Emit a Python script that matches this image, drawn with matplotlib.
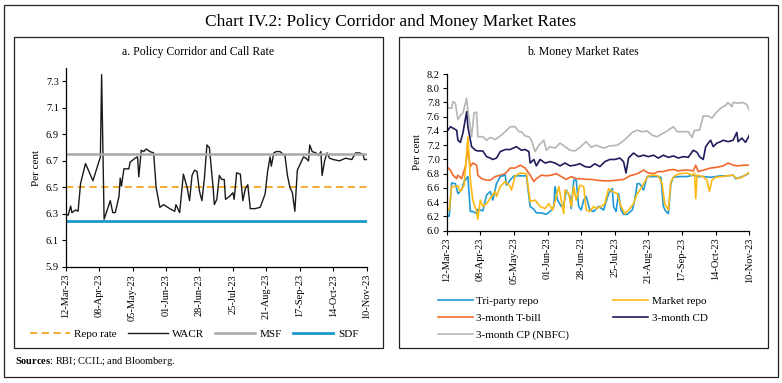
import matplotlib
matplotlib.use("Agg")
import matplotlib.pyplot as plt
import matplotlib.dates as mdates
from matplotlib.patches import Rectangle
from matplotlib.ticker import FormatStrFormatter
import pandas as pd

plt.rcParams['font.family'] = ['Liberation Serif', 'DejaVu Serif']
plt.rcParams['mathtext.fontset'] = 'custom'
plt.rcParams['mathtext.rm'] = 'Liberation Serif'
plt.rcParams['mathtext.bf'] = 'Liberation Serif:bold'

# ---- data (days counted from 12-Mar-2023) ----
start = pd.Timestamp("2023-03-12")
end = pd.Timestamp("2023-11-10")

repo_rate = 6.50
msf_rate = 6.75
sdf_rate = 6.25

wacr_days = [0, 2, 4, 5, 8, 10, 12, 16, 22, 26,
             28, 29, 31, 36, 38, 40, 43, 44, 45, 47,
             51, 52, 56, 58, 59, 61, 63, 65, 68, 71,
             73, 76, 79, 84, 88, 89, 92, 95, 98, 100,
             102, 104, 106, 108, 110, 112, 114, 116, 119, 120,
             122, 124, 126, 128, 129, 132, 135, 136, 138, 141,
             143, 145, 147, 149, 153, 157, 161, 163, 165, 166,
             168, 170, 173, 177, 179, 181, 183, 185, 187, 189,
             192, 194, 196, 197, 199, 202, 204, 206, 207, 209,
             211, 213, 216, 221, 226, 231, 234, 237, 240, 241,
             243]
wacr = [6.30, 6.29, 6.36, 6.31, 6.33, 6.32, 6.53, 6.68, 6.55, 6.67,
        6.73, 7.35, 6.26, 6.40, 6.31, 6.31, 6.43, 6.57, 6.51, 6.64,
        6.64, 6.69, 6.72, 6.73, 6.58, 6.78, 6.77, 6.79, 6.77, 6.76,
        6.50, 6.35, 6.37, 6.34, 6.32, 6.37, 6.31, 6.60, 6.50, 6.40,
        6.59, 6.63, 6.62, 6.47, 6.40, 6.57, 6.82, 6.80, 6.50, 6.37,
        6.41, 6.59, 6.56, 6.56, 6.41, 6.43, 6.46, 6.41, 6.61, 6.60,
        6.40, 6.49, 6.52, 6.34, 6.34, 6.35, 6.45, 6.62, 6.73, 6.66,
        6.76, 6.77, 6.77, 6.74, 6.59, 6.50, 6.46, 6.32, 6.63, 6.67,
        6.73, 6.72, 6.70, 6.82, 6.77, 6.76, 6.74, 6.77, 6.59, 6.70,
        6.76, 6.72, 6.71, 6.70, 6.72, 6.71, 6.76, 6.76, 6.75, 6.71,
        6.71]

cp_days = [0, 1, 4, 5, 7, 9, 11, 13, 16, 17, 20, 22, 24, 25, 29, 32, 35, 39,
           43, 47, 51, 55, 58, 60, 63, 66, 68, 71, 74, 78, 80, 83, 87, 91,
           95, 99, 103, 107, 112, 116, 120, 126, 131, 137, 141, 145, 149,
           153, 157, 161, 165, 169, 173, 177, 182, 185, 190, 194, 197, 199,
           203, 206, 210, 213, 216, 220, 224, 226, 229, 230, 234, 238, 241, 243]
cp = [7.83, 7.72, 7.72, 7.81, 7.79, 7.56, 7.62, 7.65, 7.86, 7.69, 7.32, 7.66,
      7.66, 7.32, 7.32, 7.27, 7.31, 7.28, 7.33, 7.39, 7.46, 7.46, 7.39, 7.39,
      7.33, 7.32, 7.27, 7.11, 7.20, 7.27, 7.13, 7.18, 7.16, 7.23, 7.18, 7.13,
      7.12, 7.17, 7.25, 7.17, 7.20, 7.16, 7.19, 7.20, 7.25, 7.31, 7.38, 7.41,
      7.39, 7.40, 7.34, 7.32, 7.36, 7.40, 7.46, 7.39, 7.39, 7.39, 7.31, 7.41,
      7.41, 7.61, 7.61, 7.58, 7.65, 7.72, 7.76, 7.80, 7.74, 7.80, 7.79, 7.80,
      7.77, 7.69]

cd_days = [0, 1, 3, 5, 8, 9, 11, 13, 16, 17, 20, 23, 25, 29, 32, 35, 37, 40,
           43, 47, 51, 56, 60, 63, 66, 67, 70, 72, 75, 79, 83, 87, 91, 95, 99,
           103, 107, 111, 115, 119, 123, 127, 131, 135, 139, 142, 144, 146,
           150, 154, 158, 162, 166, 170, 174, 178, 182, 186, 190, 194, 198,
           201, 203, 206, 208, 210, 212, 214, 217, 220, 222, 226, 230, 233,
           234, 237, 240, 243]
cd = [7.46, 7.41, 7.46, 7.44, 7.41, 7.27, 7.24, 7.37, 7.67, 7.46, 7.18, 7.13,
      7.12, 7.12, 7.04, 7.02, 7.00, 7.02, 7.11, 7.14, 7.14, 7.18, 7.13, 7.14,
      7.11, 6.95, 7.00, 6.91, 7.00, 6.95, 6.97, 6.95, 6.91, 6.95, 6.91, 6.92,
      6.94, 6.90, 6.89, 6.94, 6.90, 6.97, 7.00, 7.00, 7.02, 6.97, 6.81, 7.02,
      7.09, 7.04, 7.06, 7.04, 7.06, 7.02, 7.06, 7.03, 7.05, 7.02, 7.04, 7.03,
      7.13, 7.10, 7.04, 7.00, 7.18, 7.23, 7.27, 7.18, 7.23, 7.25, 7.27, 7.25,
      7.27, 7.38, 7.25, 7.30, 7.24, 7.34]

tbill_days = [0, 3, 5, 8, 9, 12, 15, 17, 19, 21, 24, 25, 28, 32, 35, 39, 43,
              47, 51, 55, 59, 63, 67, 70, 72, 76, 80, 84, 88, 92, 96, 100, 104,
              108, 112, 116, 120, 126, 131, 137, 142, 147, 153, 158, 162, 166,
              170, 174, 178, 182, 186, 190, 194, 198, 200, 202, 206, 212, 217,
              222, 226, 230, 234, 238, 243]
tbill = [6.90, 6.85, 6.78, 6.73, 6.78, 6.73, 6.90, 7.13, 6.90, 6.95, 6.92,
         6.78, 6.73, 6.71, 6.71, 6.76, 6.78, 6.80, 6.88, 6.88, 6.92, 6.88,
         6.78, 6.69, 6.73, 6.78, 6.77, 6.78, 6.80, 6.76, 6.72, 6.76, 6.73,
         6.73, 6.72, 6.72, 6.71, 6.70, 6.70, 6.71, 6.72, 6.77, 6.80, 6.85,
         6.81, 6.80, 6.83, 6.83, 6.85, 6.86, 6.84, 6.85, 6.85, 6.84, 6.92,
         6.83, 6.85, 6.88, 6.89, 6.91, 6.95, 6.92, 6.91, 6.92, 6.92]

triparty_days = [0, 2, 4, 7, 9, 12, 14, 17, 19, 21, 24, 25, 29, 32, 35, 37, 40,
                 43, 47, 48, 51, 54, 59, 64, 67, 70, 72, 76, 80, 83, 86, 87, 89,
                 92, 94, 96, 99, 100, 102, 104, 106, 108, 110, 112, 115, 118,
                 122, 126, 130, 133, 134, 136, 138, 140, 142, 145, 149, 151,
                 153, 155, 158, 161, 165, 169, 172, 174, 176, 178, 180, 182,
                 187, 193, 198, 202, 206, 212, 216, 220, 225, 230, 232, 236,
                 240, 243]
triparty = [6.22, 6.20, 6.67, 6.66, 6.52, 6.57, 6.69, 6.76, 6.27, 6.27, 6.24,
            6.30, 6.28, 6.50, 6.55, 6.43, 6.66, 6.76, 6.78, 6.64, 6.71, 6.77,
            6.77, 6.77, 6.34, 6.30, 6.25, 6.25, 6.23, 6.27, 6.34, 6.62, 6.43,
            6.34, 6.36, 6.57, 6.48, 6.31, 6.71, 6.71, 6.34, 6.29, 6.43, 6.48,
            6.29, 6.27, 6.34, 6.29, 6.52, 6.59, 6.34, 6.27, 6.52, 6.29, 6.23,
            6.23, 6.29, 6.43, 6.66, 6.66, 6.57, 6.76, 6.76, 6.76, 6.75, 6.34,
            6.27, 6.24, 6.66, 6.75, 6.76, 6.76, 6.78, 6.76, 6.76, 6.75, 6.76,
            6.77, 6.77, 6.78, 6.73, 6.75, 6.78, 6.81]

mrepo_days = [0, 2, 4, 7, 9, 11, 14, 16, 17, 19, 21, 24, 25, 27, 29, 32, 36,
              39, 40, 43, 47, 51, 52, 55, 59, 64, 67, 71, 75, 79, 82, 85, 87,
              90, 92, 94, 95, 98, 100, 102, 104, 107, 110, 112, 115, 118, 120,
              124, 127, 130, 133, 137, 140, 143, 146, 150, 153, 157, 159, 162,
              166, 170, 173, 175, 178, 180, 183, 187, 193, 197, 199, 200, 201,
              206, 209, 211, 213, 216, 221, 225, 230, 233, 237, 243]
mrepo = [6.31, 6.29, 6.62, 6.62, 6.63, 6.55, 6.64, 7.09, 7.32, 6.71, 6.43,
         6.27, 6.16, 6.43, 6.34, 6.38, 6.48, 6.55, 6.48, 6.62, 6.69, 6.62,
         6.57, 6.77, 6.81, 6.80, 6.41, 6.43, 6.34, 6.31, 6.38, 6.29, 6.41,
         6.62, 6.43, 6.24, 6.57, 6.52, 6.34, 6.62, 6.43, 6.64, 6.62, 6.29,
         6.27, 6.34, 6.31, 6.34, 6.38, 6.59, 6.55, 6.52, 6.34, 6.24, 6.29,
         6.38, 6.52, 6.62, 6.69, 6.77, 6.78, 6.77, 6.66, 6.38, 6.29, 6.69,
         6.77, 6.80, 6.81, 6.78, 6.81, 6.45, 6.78, 6.76, 6.71, 6.55, 6.71,
         6.75, 6.76, 6.77, 6.78, 6.73, 6.75, 6.82]

tick_dates = pd.date_range(start, end, freq="27D")


def to_dates(days):
    return start + pd.to_timedelta(days, unit="D")


W, H = 782, 383
fig = plt.figure(figsize=(W / 100, H / 100), dpi=100)


def box(x0, y0, x1, y1, lw=0.9):
    fig.patches.append(Rectangle((x0 / W, 1 - y1 / H), (x1 - x0) / W,
                                 (y1 - y0) / H, transform=fig.transFigure,
                                 fill=False, lw=lw, edgecolor="#222222"))


box(4, 5, 778, 377)
box(14, 37, 383, 348)
box(399, 37, 768, 348)

fig.text(391 / W, 1 - 22 / H, "Chart IV.2: Policy Corridor and Money Market Rates",
         ha="center", va="center", fontsize=12.5)
fig.text(198 / W, 1 - 52 / H, "a. Policy Corridor and Call Rate",
         ha="center", va="center", fontsize=8.5)
fig.text(583 / W, 1 - 52 / H, "b. Money Market Rates",
         ha="center", va="center", fontsize=8.5)
fig.text(15 / W, 1 - 362 / H, r"$\mathbf{Sources}$: RBI; CCIL; and Bloomberg.",
         ha="left", va="center", fontsize=7.5)


def style_axis(ax):
    for s in ("top", "right"):
        ax.spines[s].set_visible(False)
    ax.spines["left"].set_linewidth(0.9)
    ax.spines["bottom"].set_linewidth(0.9)
    ax.tick_params(direction="out", length=3, width=0.8, labelsize=7.5,
                   pad=2)
    ax.set_xlim(start, end)
    ax.set_xticks(tick_dates)
    ax.xaxis.set_major_formatter(mdates.DateFormatter("%d-%b-%y"))
    for lab in ax.get_xticklabels():
        lab.set_rotation(90)
    ax.set_ylabel("Per cent", fontsize=8, labelpad=3)


# ---- panel a ----
ax1 = fig.add_axes([65.7 / W, 1 - 267 / H, 301 / W, 199 / H])
ax1.plot([start, end], [repo_rate, repo_rate], color="#f6a623", lw=1.3,
         dashes=(4, 2.5), label="Repo rate")
ax1.plot(to_dates(wacr_days), wacr, color="#1a1a1a", lw=1.0, label="WACR")
ax1.plot([start, end], [msf_rate, msf_rate], color="#a8a8a8", lw=1.8,
         label="MSF")
ax1.plot([start, end], [sdf_rate, sdf_rate], color="#1a98cf", lw=2.0,
         label="SDF")
style_axis(ax1)
ax1.set_ylim(5.9, 7.4)
ax1.set_yticks([5.9, 6.1, 6.3, 6.5, 6.7, 6.9, 7.1, 7.3])
ax1.yaxis.set_major_formatter(FormatStrFormatter("%.1f"))

h1, l1 = ax1.get_legend_handles_labels()
fig.legend(h1, l1, loc="center", bbox_to_anchor=(194 / W, 1 - 334 / H),
           ncol=4, frameon=False, fontsize=8, handlelength=3.6,
           handletextpad=0.4, columnspacing=1.0, borderpad=0)

# ---- panel b ----
ax2 = fig.add_axes([446.7 / W, 1 - 230.7 / H, 302.6 / W, 156.7 / H])
ax2.plot(to_dates(cp_days), cp, color="#b5b5b5", lw=1.2,
         label="3-month CP (NBFC)")
ax2.plot(to_dates(cd_days), cd, color="#1f1d5c", lw=1.2, label="3-month CD")
ax2.plot(to_dates(tbill_days), tbill, color="#f26a2b", lw=1.2,
         label="3-month T-bill")
ax2.plot(to_dates(triparty_days), triparty, color="#1f9ad5", lw=1.2,
         label="Tri-party repo")
ax2.plot(to_dates(mrepo_days), mrepo, color="#fdb914", lw=1.2,
         label="Market repo")
style_axis(ax2)
ax2.set_ylim(6.0, 8.2)
ax2.set_yticks([6.0, 6.2, 6.4, 6.6, 6.8, 7.0, 7.2, 7.4, 7.6, 7.8, 8.0, 8.2])
ax2.yaxis.set_major_formatter(FormatStrFormatter("%.1f"))

hd = dict(zip(*ax2.get_legend_handles_labels()[::-1]))
order = ["Tri-party repo", "3-month T-bill", "3-month CP (NBFC)",
         "Market repo", "3-month CD"]
fig.legend([hd[k] for k in order], order, loc="upper left",
           bbox_to_anchor=(432 / W, 1 - 291 / H), ncol=2, frameon=False,
           fontsize=8, handlelength=3.2, handletextpad=0.3,
           columnspacing=3.9, labelspacing=0.62, borderpad=0)

fig.savefig("out.png", dpi=100)
